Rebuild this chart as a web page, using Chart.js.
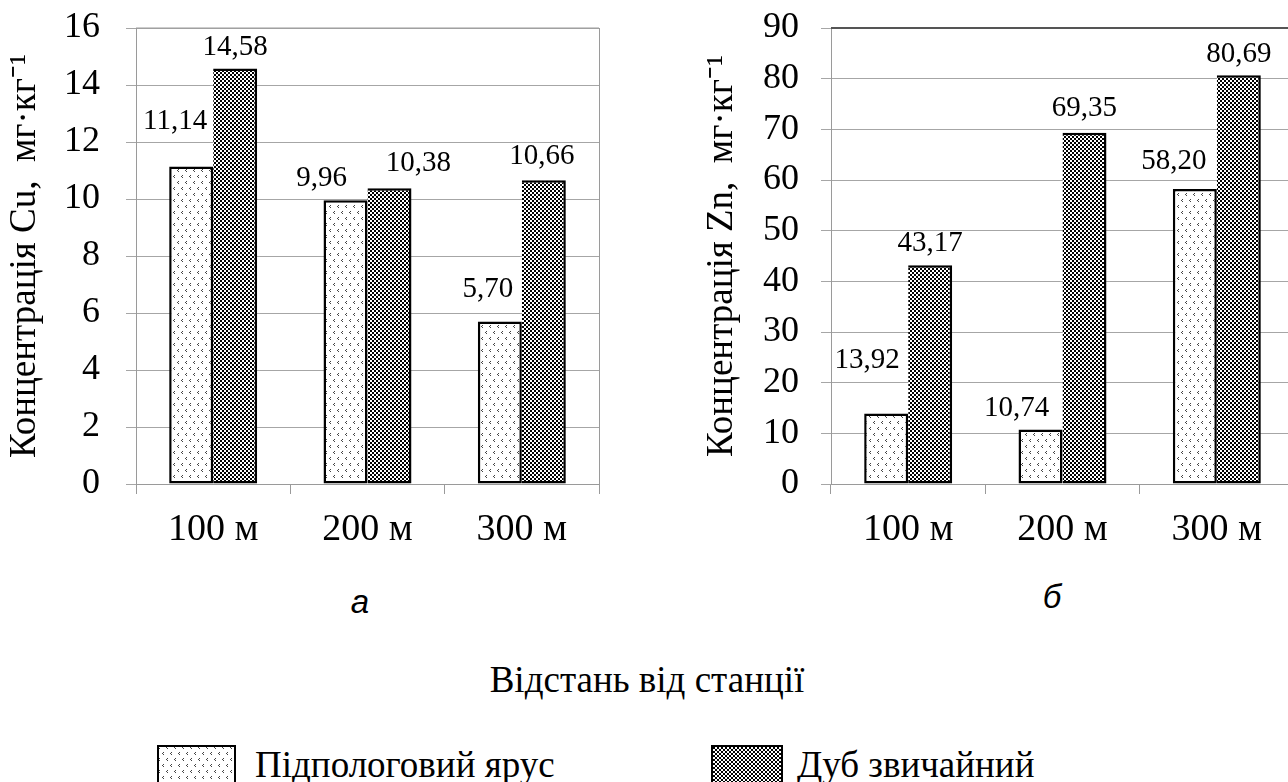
<!DOCTYPE html>
<html><head><meta charset="utf-8">
<script src="https://cdn.jsdelivr.net/npm/chart.js@4.4.1/dist/chart.umd.min.js"></script>
<style>
html,body{margin:0;padding:0;width:1288px;height:782px;overflow:hidden;background:#fff;}
body{position:relative;font-family:"Liberation Serif","Times New Roman",Times,serif;color:#000;}
canvas{position:absolute;display:block;}
#cu{left:0;top:0;}
#zn{left:640px;top:0;}
.t{position:absolute;white-space:nowrap;line-height:1;}
.cap{font-family:"Liberation Sans",Arial,sans-serif;font-style:italic;font-size:33px;transform:translateX(-50%);}
.ser{font-family:"Liberation Serif","Times New Roman",Times,serif;font-size:37px;}
</style>
</head><body>
<canvas id="cu" width="610" height="560"></canvas>
<canvas id="zn" width="654" height="560"></canvas>
<div class="t cap" style="left:360px;top:585px;">а</div>
<div class="t cap" style="left:1052px;top:580px;">б</div>
<div class="t ser" style="left:647px;top:661px;transform:translateX(-50%);">Відстань від станції</div>
<canvas id="sw1" width="79" height="45" style="left:157px;top:745px;"></canvas>
<div class="t ser" style="left:255px;top:746px;">Підпологовий ярус</div>
<canvas id="sw2" width="72" height="45" style="left:711px;top:745px;"></canvas>
<div class="t ser" style="left:797px;top:746px;">Дуб звичайний</div>
<script>
// ---- data ----
const categories = ['100 м', '200 м', '300 м'];
const seriesNames = ['Підпологовий ярус', 'Дуб звичайний'];
const cuUnder = [11.14, 9.96, 5.70];
const cuOak = [14.58, 10.38, 10.66];
const znUnder = [13.92, 10.74, 58.20];
const znOak = [43.17, 69.35, 80.69];
const cuTicks = {min: 0, max: 16, step: 2};
const znTicks = {min: 0, max: 90, step: 10};
const cuTitle = 'Концентрація Cu,  мг·кг⁻¹';
const znTitle = 'Концентрація Zn,  мг·кг⁻¹';

// ---- label offsets (style, relative to bar top centre) ----
const cuShift = [[[-16,-45],[-24,-22],[-12,-32]], [[0,-21],[29,-25],[-2,-24]]];
const znShift = [[[-19,-53],[-24,-21],[-21,-28]], [[0,-22],[0,-24],[0,-21]]];

const SERIF = '"Liberation Serif", "Times New Roman", Times, serif';

// ---- patterns ----
function palePattern(){
  const c = document.createElement('canvas'); c.width = 8; c.height = 12;
  const x = c.getContext('2d');
  x.fillStyle = '#fff'; x.fillRect(0,0,8,12);
  x.fillStyle = '#444';
  [[1,1],[5,7]].forEach(([a,b])=>{ x.fillRect(a+1,b,1,1); x.fillRect(a,b+1,1,1); x.fillRect(a+1,b+2,1,1); });
  return x.createPattern(c,'repeat');
}
function darkPattern(){
  const c = document.createElement('canvas'); c.width = 4; c.height = 4;
  const x = c.getContext('2d');
  x.fillStyle = '#fff'; x.fillRect(0,0,4,4);
  x.fillStyle = '#000';
  x.fillRect(0,0,2,2); x.fillRect(2,2,2,2);
  return x.createPattern(c,'repeat');
}
const paleFill = palePattern();
const darkFill = darkPattern();

// ---- plugins ----
const framePlugin = {
  id: 'frame',
  beforeDatasetsDraw(chart, args, o){
    const {ctx, chartArea: a} = chart;
    ctx.save();
    if (o.right){ ctx.strokeStyle = o.rightColor; ctx.lineWidth = 1; ctx.beginPath(); ctx.moveTo(a.right+0.5, a.top); ctx.lineTo(a.right+0.5, a.bottom); ctx.stroke(); }
    if (o.top){ ctx.strokeStyle = o.topColor; ctx.lineWidth = o.topWidth; ctx.beginPath(); ctx.moveTo(a.left, a.top); ctx.lineTo(a.right, a.top); ctx.stroke(); }
    ctx.restore();
  }
};
const labelPlugin = {
  id: 'vlabels',
  afterDatasetsDraw(chart, args, o){
    const ctx = chart.ctx;
    ctx.save();
    ctx.font = o.font; ctx.fillStyle = '#000'; ctx.textAlign = 'center'; ctx.textBaseline = 'middle';
    chart.data.datasets.forEach((ds, di) => {
      chart.getDatasetMeta(di).data.forEach((bar, i) => {
        const s = o.shift[di][i];
        const txt = ds.data[i].toFixed(2).replace('.', ',');
        ctx.fillText(txt, bar.x + s[0], bar.y + s[1]);
      });
    });
    ctx.restore();
  }
};

function makeChart(id, under, oak, ticks, title, shift, yWidth, titlePad, tickPad, frame){
  return new Chart(document.getElementById(id), {
    type: 'bar',
    data: {
      labels: categories,
      datasets: [
        {label: seriesNames[0], data: under, backgroundColor: paleFill, borderColor: '#000', borderWidth: 2.5, borderSkipped: false},
        {label: seriesNames[1], data: oak, backgroundColor: darkFill, borderColor: '#000',
         borderWidth: {top: 2.5, right: 2.5, bottom: 2.5, left: 0}, borderSkipped: false}
      ]
    },
    options: {
      responsive: false, animation: false,
      categoryPercentage: 0.57, barPercentage: 1.0,
      layout: {padding: {top: 28, left: 0, right: frame.padRight, bottom: 0}},
      plugins: {legend: {display: false}, tooltip: {enabled: false},
        vlabels: {font: '29px ' + SERIF, shift: shift},
        frame: frame},
      scales: {
        x: {
          grid: {display: true, drawOnChartArea: false, drawTicks: true, tickLength: 10, color: '#9a9a9a', offset: true},
          border: {display: true, color: '#9a9a9a', width: 1},
          ticks: {color: '#000', padding: 13, font: {family: SERIF, size: 38}},
          afterFit(s){ s.height = 560 - 484; s.paddingLeft = 0; s.paddingRight = 0; }
        },
        y: {
          min: ticks.min, max: ticks.max,
          grid: {color: '#a6a6a6', lineWidth: 1, tickLength: 10, drawTicks: true},
          border: {display: true, color: '#9a9a9a', width: 1},
          ticks: {stepSize: ticks.step, color: '#000', padding: tickPad, font: {family: SERIF, size: 36}},
          title: {display: true, text: title, color: '#000', padding: {top: titlePad, bottom: 0}, font: {family: SERIF, size: 37}},
          afterFit(s){ s.width = yWidth; s.paddingTop = 0; s.paddingBottom = 0; }
        }
      }
    },
    plugins: [framePlugin, labelPlugin]
  });
}

makeChart('cu', cuUnder, cuOak, cuTicks, cuTitle, cuShift, 136, 3, 26,
  {padRight: 11, right: true, rightColor: '#9a9a9a', top: true, topColor: '#9a9a9a', topWidth: 1});
makeChart('zn', znUnder, znOak, znTicks, znTitle, znShift, 191, 60, 22,
  {padRight: 0, right: false, rightColor: '#9a9a9a', top: true, topColor: '#555', topWidth: 2});

// legend swatches
function swatch(id, fill){
  const c = document.getElementById(id), x = c.getContext('2d');
  x.fillStyle = fill; x.fillRect(0,0,c.width,c.height);
  x.strokeStyle = '#000'; x.lineWidth = 2; x.strokeRect(1,1,c.width-2,c.height-2);
}
swatch('sw1', paleFill);
swatch('sw2', darkFill);
</script>
</body></html>
